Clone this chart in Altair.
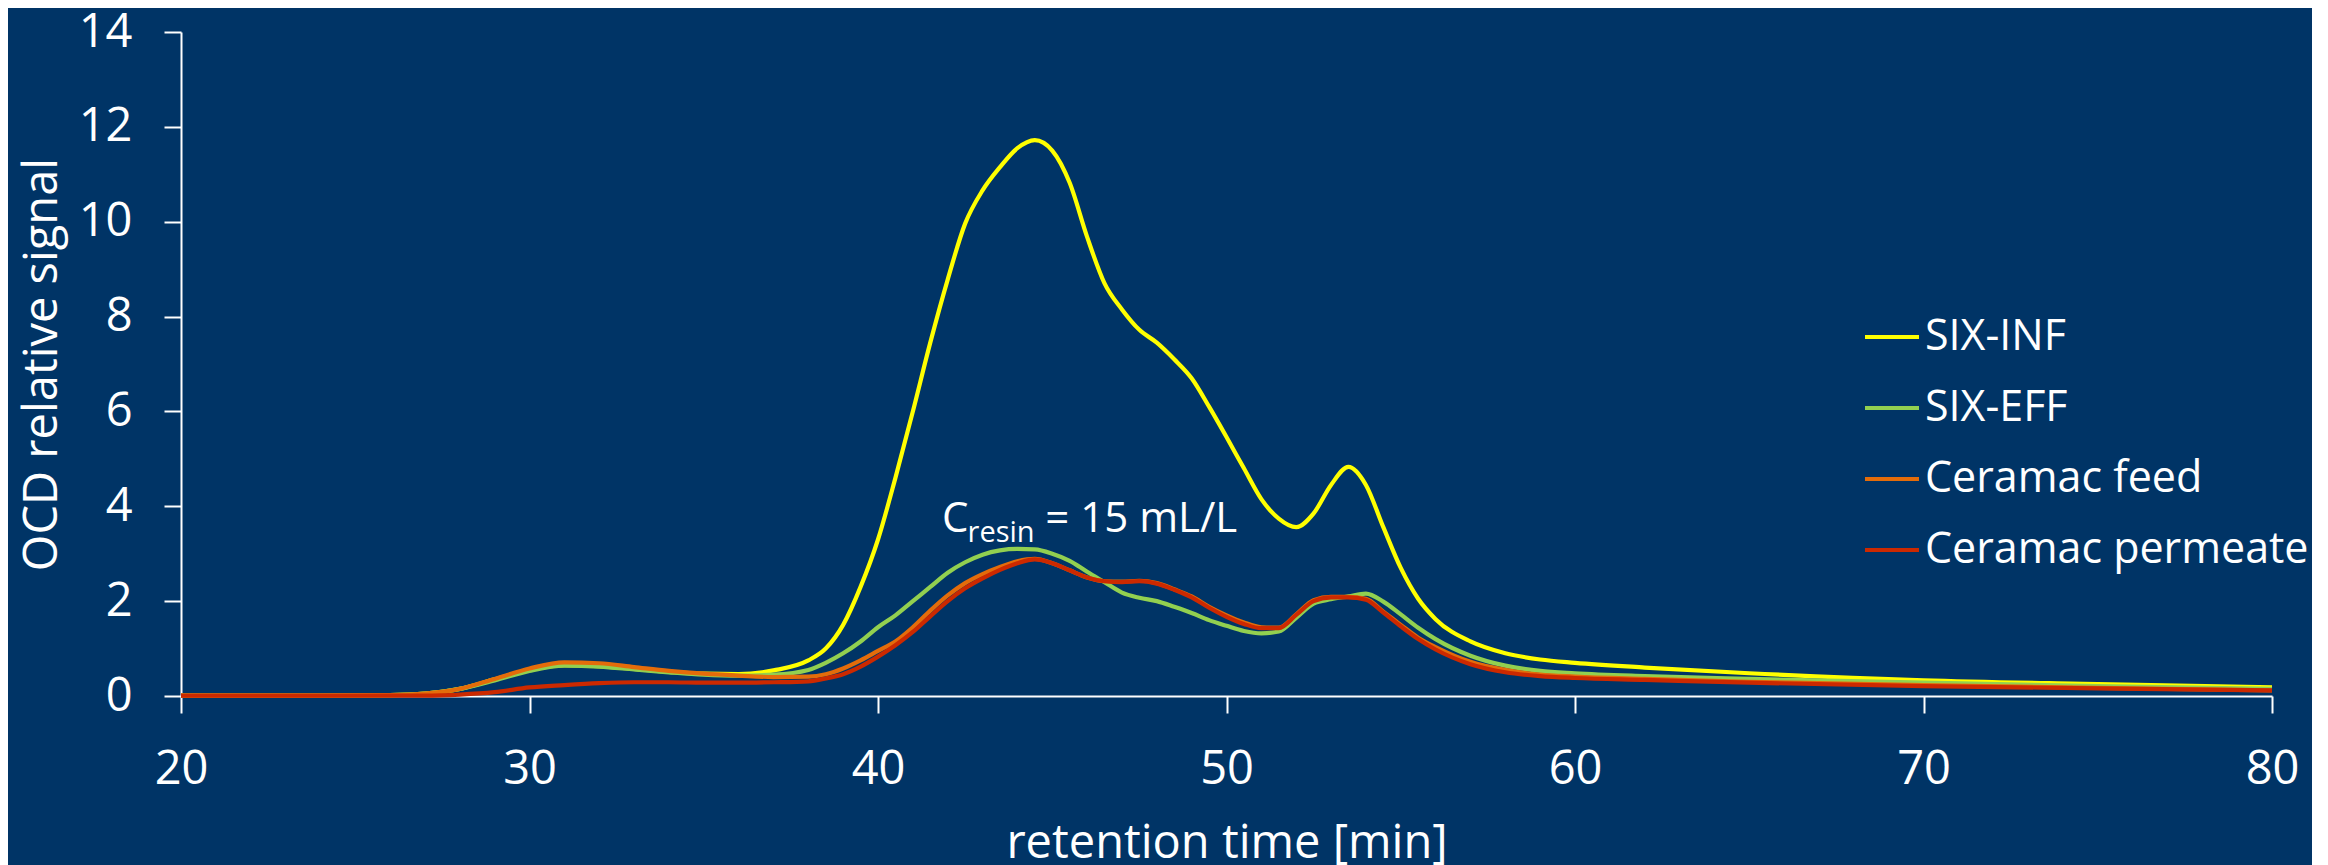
import altair as alt
import pandas as pd

# retention time grid [min]
time = [20, 22, 24, 26, 27, 28, 29, 30, 31, 32, 33, 34, 35, 36, 37, 38, 38.5, 39, 39.5,
        40, 40.5, 41, 41.5, 42, 42.5, 43, 43.5, 44, 44.5, 45, 45.5, 46, 46.5, 47, 47.5,
        48, 48.5, 49, 49.5, 50, 50.5, 51, 51.5, 52, 52.5, 53, 53.5, 54, 54.5, 55, 55.5,
        56, 57, 58, 59, 60, 62, 65, 70, 75, 80]

six_inf = [0.01, 0.01, 0.01, 0.02, 0.05, 0.15, 0.35, 0.55, 0.65, 0.63, 0.57, 0.51, 0.47, 0.46, 0.54, 0.75, 1.0, 1.5, 2.3,
           3.3, 4.6, 6.0, 7.45, 8.78, 9.96, 10.66, 11.15, 11.55, 11.72, 11.5, 10.82, 9.68, 8.7, 8.15, 7.72,
           7.45, 7.1, 6.7, 6.1, 5.46, 4.8, 4.15, 3.74, 3.56, 3.85, 4.45, 4.83, 4.45, 3.56, 2.7, 2.05,
           1.62, 1.15, 0.9, 0.77, 0.7, 0.6, 0.48, 0.33, 0.25, 0.18]

six_eff = [0.01, 0.01, 0.01, 0.02, 0.05, 0.15, 0.33, 0.53, 0.64, 0.62, 0.56, 0.5, 0.45, 0.43, 0.45, 0.55, 0.7, 0.9, 1.15,
           1.45, 1.7, 2.0, 2.3, 2.6, 2.82, 2.98, 3.07, 3.1, 3.09, 3.0, 2.85, 2.62, 2.4, 2.18, 2.07,
           2.0, 1.88, 1.75, 1.6, 1.48, 1.37, 1.32, 1.36, 1.65, 1.95, 2.04, 2.1, 2.16, 1.99, 1.72, 1.44,
           1.2, 0.85, 0.64, 0.53, 0.48, 0.42, 0.36, 0.28, 0.21, 0.15]

ceramac_feed = [0.01, 0.01, 0.01, 0.02, 0.05, 0.15, 0.36, 0.58, 0.71, 0.69, 0.61, 0.53, 0.47, 0.43, 0.4, 0.41, 0.46, 0.58, 0.75,
                0.95, 1.15, 1.45, 1.8, 2.12, 2.38, 2.57, 2.72, 2.84, 2.89, 2.8, 2.65, 2.5, 2.42, 2.41, 2.43,
                2.38, 2.25, 2.1, 1.88, 1.7, 1.55, 1.45, 1.44, 1.72, 2.02, 2.09, 2.09, 2.05, 1.78, 1.5, 1.23,
                1.03, 0.72, 0.55, 0.45, 0.41, 0.36, 0.3, 0.23, 0.17, 0.12]

ceramac_permeate = [0.01, 0.01, 0.01, 0.01, 0.01, 0.03, 0.08, 0.18, 0.23, 0.27, 0.29, 0.29, 0.28, 0.28, 0.29, 0.31, 0.37, 0.46, 0.62,
                    0.83, 1.07, 1.35, 1.68, 2.0, 2.27, 2.48, 2.66, 2.8, 2.88, 2.8, 2.65, 2.5, 2.42, 2.4, 2.42,
                    2.37, 2.24, 2.08, 1.86, 1.67, 1.52, 1.43, 1.43, 1.71, 2.0, 2.08, 2.08, 2.03, 1.76, 1.47, 1.2,
                    0.98, 0.67, 0.5, 0.42, 0.38, 0.34, 0.28, 0.21, 0.16, 0.12]

series_names = ["SIX-INF", "SIX-EFF", "Ceramac feed", "Ceramac permeate"]
series_colors = ["#FFFF00", "#92D050", "#E46C0A", "#CC2900"]
series_values = [six_inf, six_eff, ceramac_feed, ceramac_permeate]

x_ticks = [20, 30, 40, 50, 60, 70, 80]
y_ticks = [0, 2, 4, 6, 8, 10, 12, 14]

# annotation: C_resin = 15 mL/L
ann_main_text = ["C", "= 15 mL/L"]
ann_main_t = [41.84, 44.8]
ann_main_v = [3.46, 3.46]
ann_sub_text = ["resin"]
ann_sub_t = [42.57]
ann_sub_v = [3.25]

rows = []
for name, vals in zip(series_names, series_values):
    for t, v in zip(time, vals):
        rows.append({"t": t, "v": v, "series": name})
df = pd.DataFrame(rows)

ann_main = pd.DataFrame({"t": ann_main_t, "v": ann_main_v, "label": ann_main_text})
ann_sub = pd.DataFrame({"t": ann_sub_t, "v": ann_sub_v, "label": ann_sub_text})

FONT = "Open Sans"
WHITE = "#FFFFFF"

x_enc = alt.X(
    "t:Q",
    scale=alt.Scale(domain=[20, 80], nice=False, zero=False),
    axis=alt.Axis(
        values=x_ticks, title="retention time [min]", grid=False,
        labelFontSize=47, titleFontSize=47, labelFont=FONT, titleFont=FONT,
        labelColor=WHITE, titleColor=WHITE, domainColor=WHITE, tickColor=WHITE,
        domainWidth=2, tickWidth=2, tickSize=17, labelPadding=33, titlePadding=28,
        titleFontWeight="normal", labelFlush=False, labelOverlap=False,
    ),
)
y_enc = alt.Y(
    "v:Q",
    scale=alt.Scale(domain=[0, 14], nice=False),
    axis=alt.Axis(
        values=y_ticks, title="OCD relative signal", grid=False,
        labelFontSize=47, titleFontSize=47, labelFont=FONT, titleFont=FONT,
        labelColor=WHITE, titleColor=WHITE, domainColor=WHITE, tickColor=WHITE,
        domainWidth=2, tickWidth=2, tickSize=17, labelPadding=32, titlePadding=12,
        titleFontWeight="normal", labelFlush=False, labelOverlap=False,
    ),
)
color_enc = alt.Color(
    "series:N",
    scale=alt.Scale(domain=series_names, range=series_colors),
    legend=alt.Legend(
        orient="none", legendX=1682, legendY=276, title=None,
        labelFontSize=43, labelFont=FONT, labelColor=WHITE, labelLimit=0,
        symbolType="stroke", symbolSize=2916, symbolStrokeWidth=4,
        labelOffset=4, rowPadding=20, padding=0,
    ),
)

base = alt.Chart(df).mark_line(strokeWidth=4.2, interpolate="monotone").encode(
    x=x_enc, y=y_enc, color=color_enc
)
layers = [base.transform_filter(alt.datum.series == n) for n in series_names]

text_main = alt.Chart(ann_main).mark_text(
    align="left", baseline="alphabetic", fontSize=42, font=FONT, color=WHITE
).encode(x="t:Q", y="v:Q", text="label:N")
text_sub = alt.Chart(ann_sub).mark_text(
    align="left", baseline="alphabetic", fontSize=29, font=FONT, color=WHITE
).encode(x="t:Q", y="v:Q", text="label:N")

chart = alt.layer(*layers, text_main, text_sub).properties(
    width=2091, height=664,
    autosize=alt.AutoSizeParams(type="none"),
    padding={"left": 173, "top": 24, "right": 40, "bottom": 180},
).configure(
    background="#003466", font=FONT
).configure_view(stroke=None)

chart.save("out.html", embed_options={"renderer": "svg", "actions": False})
